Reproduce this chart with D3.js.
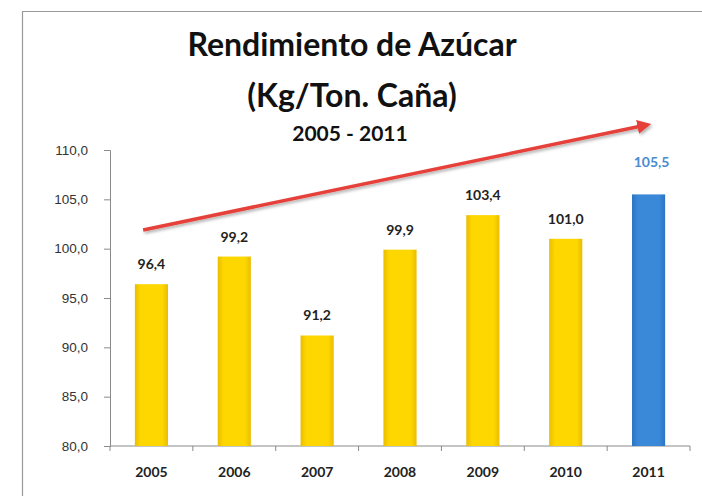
<!DOCTYPE html>
<html>
<head>
<meta charset="utf-8">
<script src="https://cdn.jsdelivr.net/npm/d3@7"></script>
<style>
  body { margin: 0; background: #fff; }
  svg { display: block; font-family: Lato, "Open Sans", sans-serif; }
</style>
</head>
<body>
<div id="chart"></div>
<script>
// Data
const years = ['2005', '2006', '2007', '2008', '2009', '2010', '2011'];
const yields = [96.4, 99.2, 91.2, 99.9, 103.4, 101.0, 105.5];
const yTicks = [80, 85, 90, 95, 100, 105, 110];
const titleLines = ['Rendimiento de Azúcar', '(Kg/Ton. Caña)'];
const subtitle = '2005 - 2011';
// trend arrow, in category index / value units
const trendIndex = [-0.1, 5.9];
const trendValue = [101.9, 112.4];

const W = 702, H = 496;
const margin = {top: 150, right: 12, bottom: 50, left: 110};
const width = W - margin.left - margin.right;
const height = H - margin.top - margin.bottom;

const svg = d3.select('#chart')
  .append('svg')
    .attr('width', W)
    .attr('height', H);

// frame
svg.append('path')
  .attr('d', `M22.5,${H} L22.5,11.5 L${W},11.5`)
  .attr('fill', 'none')
  .attr('stroke', '#9a9a9a')
  .attr('stroke-width', 1.2);

const defs = svg.append('defs');
const yellowGrad = defs.append('linearGradient').attr('id', 'gYellow');
yellowGrad.append('stop').attr('offset', '0%').attr('stop-color', '#e9bd00');
yellowGrad.append('stop').attr('offset', '18%').attr('stop-color', '#ffd700');
yellowGrad.append('stop').attr('offset', '82%').attr('stop-color', '#ffd700');
yellowGrad.append('stop').attr('offset', '100%').attr('stop-color', '#e9bd00');
const blueGrad = defs.append('linearGradient').attr('id', 'gBlue');
blueGrad.append('stop').attr('offset', '0%').attr('stop-color', '#2c74c4');
blueGrad.append('stop').attr('offset', '18%').attr('stop-color', '#3a88d8');
blueGrad.append('stop').attr('offset', '82%').attr('stop-color', '#3a88d8');
blueGrad.append('stop').attr('offset', '100%').attr('stop-color', '#2c74c4');
defs.append('filter').attr('id', 'shadow')
  .append('feDropShadow')
    .attr('dx', 1.5).attr('dy', 2).attr('stdDeviation', 1.5)
    .attr('flood-color', '#000').attr('flood-opacity', 0.3);
defs.append('marker')
  .attr('id', 'arrowHead')
  .attr('viewBox', '0 0 10 10')
  .attr('refX', 2).attr('refY', 5)
  .attr('markerWidth', 4).attr('markerHeight', 4)
  .attr('orient', 'auto')
  .append('path')
    .attr('d', 'M0,0 L10,5 L0,10 z')
    .attr('fill', '#e6403a');

// titles
svg.selectAll('text.title')
  .data(titleLines)
  .join('text')
    .attr('class', 'title')
    .attr('x', 352)
    .attr('y', (d, i) => 56 + i * 51)
    .attr('text-anchor', 'middle')
    .style('font-size', '32px')
    .style('font-weight', 'bold')
    .style('fill', '#111')
    .text(d => d);

svg.append('text')
  .attr('x', 350)
  .attr('y', 141)
  .attr('text-anchor', 'middle')
  .style('font-size', '21px')
  .style('font-weight', 'bold')
  .style('fill', '#111')
  .text(subtitle);

const g = svg.append('g')
  .attr('transform', `translate(${margin.left},${margin.top})`);

const x = d3.scaleBand()
  .domain(years)
  .range([0, width])
  .paddingInner(0.6)
  .paddingOuter(0.3);

const y = d3.scaleLinear()
  .domain([80, 110])
  .range([height, 0]);

// Y axis
const yAxis = g.append('g')
  .call(d3.axisLeft(y)
    .tickValues(yTicks)
    .tickSize(6)
    .tickPadding(16)
    .tickFormat(d => d3.format('.1f')(d).replace('.', ',')));
yAxis.selectAll('text')
  .style('font-size', '13.5px')
  .style('fill', '#333');
yAxis.selectAll('line, path').attr('stroke', '#8a8a8a');

// X axis with ticks between categories
const xAxis = g.append('g')
  .attr('transform', `translate(0,${height})`);
xAxis.append('line')
  .attr('x1', 0).attr('x2', width)
  .attr('stroke', '#8a8a8a');
const step = x.step();
xAxis.selectAll('line.tick')
  .data(d3.range(years.length + 1))
  .join('line')
    .attr('class', 'tick')
    .attr('x1', i => x(years[0]) - x.paddingOuter() * step + i * step)
    .attr('x2', i => x(years[0]) - x.paddingOuter() * step + i * step)
    .attr('y1', 0).attr('y2', 5)
    .attr('stroke', '#8a8a8a');
xAxis.selectAll('text')
  .data(years)
  .join('text')
    .attr('x', d => x(d) + x.bandwidth() / 2)
    .attr('y', 31)
    .attr('text-anchor', 'middle')
    .style('font-size', '14px')
    .style('font-weight', 'bold')
    .style('fill', '#222')
    .text(d => d);

// Bars
const last = years.length - 1;
g.selectAll('rect.bar')
  .data(yields)
  .join('rect')
    .attr('class', 'bar')
    .attr('x', (d, i) => x(years[i]))
    .attr('width', x.bandwidth())
    .attr('y', d => y(d))
    .attr('height', d => height - y(d))
    .attr('fill', (d, i) => i === last ? 'url(#gBlue)' : 'url(#gYellow)');

// Value labels
g.selectAll('text.val')
  .data(yields)
  .join('text')
    .attr('class', 'val')
    .attr('x', (d, i) => x(years[i]) + x.bandwidth() / 2 + (i === last ? 3 : 0))
    .attr('y', (d, i) => y(d) - (i === last ? 27 : 15))
    .attr('text-anchor', 'middle')
    .style('font-size', '14px')
    .style('font-weight', 'bold')
    .style('fill', (d, i) => i === last ? '#4a8bd0' : '#222')
    .text(d => d3.format('.1f')(d).replace('.', ','));

// Trend arrow
const xi = d3.scaleLinear()
  .domain([-0.5, years.length - 0.5])
  .range([0, width]);
g.append('path')
  .datum(d3.zip(trendIndex, trendValue))
  .attr('d', d3.line().x(d => xi(d[0])).y(d => y(d[1])))
  .attr('stroke', '#e6403a')
  .attr('stroke-width', 3.5)
  .attr('fill', 'none')
  .attr('marker-end', 'url(#arrowHead)')
  .attr('filter', 'url(#shadow)');
</script>
</body>
</html>
